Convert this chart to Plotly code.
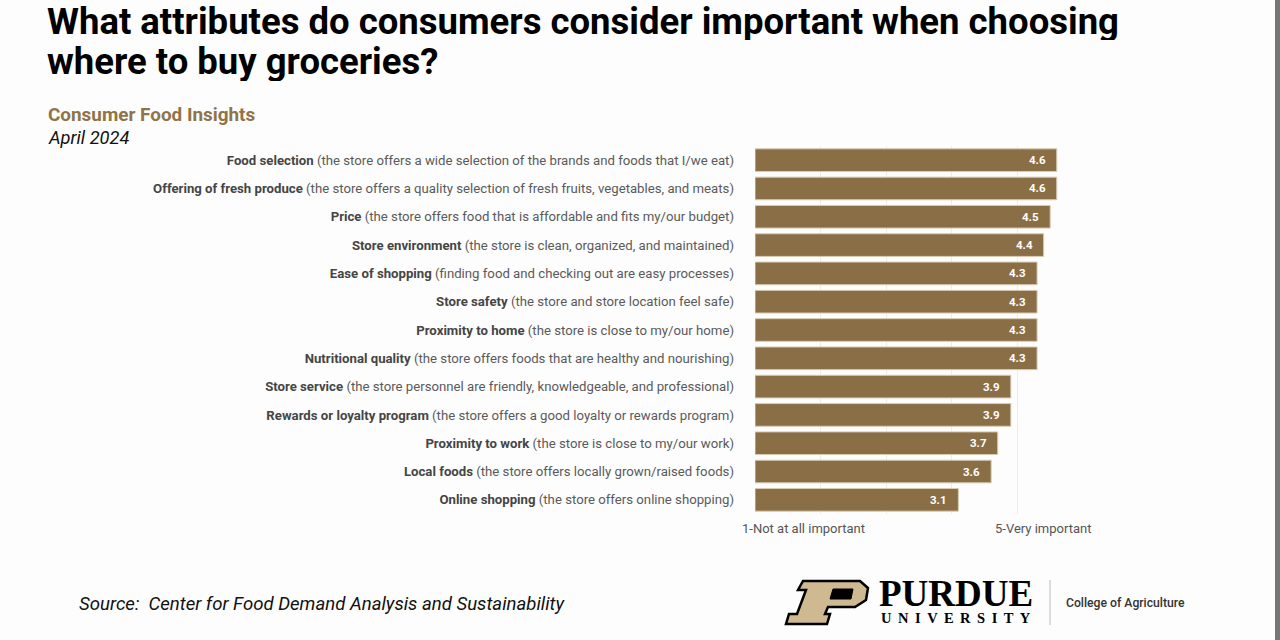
import plotly.graph_objects as go

attributes = [
    "Food selection", "Offering of fresh produce", "Price", "Store environment",
    "Ease of shopping", "Store safety", "Proximity to home", "Nutritional quality",
    "Store service", "Rewards or loyalty program", "Proximity to work",
    "Local foods", "Online shopping",
]
descriptions = [
    "(the store offers a wide selection of the brands and foods that I/we eat)",
    "(the store offers a quality selection of fresh fruits, vegetables, and meats)",
    "(the store offers food that is affordable and fits my/our budget)",
    "(the store is clean, organized, and maintained)",
    "(finding food and checking out are easy processes)",
    "(the store and store location feel safe)",
    "(the store is close to my/our home)",
    "(the store offers foods that are healthy and nourishing)",
    "(the store personnel are friendly, knowledgeable, and professional)",
    "(the store offers a good loyalty or rewards program)",
    "(the store is close to my/our work)",
    "(the store offers locally grown/raised foods)",
    "(the store offers online shopping)",
]
scores = [4.6, 4.6, 4.5, 4.4, 4.3, 4.3, 4.3, 4.3, 3.9, 3.9, 3.7, 3.6, 3.1]
axis_end_labels = ["1-Not at all important", "5-Very important"]

BAR = "#8a6e45"
GOLD_TXT = "#8f7449"
FONT = "Roboto"

W, H = 1280, 640
ML, MR, MT, MB = 755, 197, 146, 126
PW, PH = W - ML - MR, H - MT - MB


def px(x):
    return (x - ML) / PW


def py(y):
    return (H - MB - y) / PH


labels = [f"<span style='color:#454545'><b>{a}</b></span> {d}" for a, d in zip(attributes, descriptions)]

fig = go.Figure()
fig.add_trace(go.Bar(
    x=scores, y=labels, orientation="h",
    marker=dict(color=BAR, line=dict(color="#d9ccb4", width=1)),
    hoverinfo="skip",
))

annotations = []
for lab, v in zip(labels, scores):
    annotations.append(dict(
        x=v, y=lab, xref="x", yref="y", text=f"<b>{v:.1f}</b>", showarrow=False,
        xanchor="right", yanchor="middle", xshift=-9,
        font=dict(family=FONT, size=11.5, color="white"),
    ))

sp = " \u2009"
annotations += [
    dict(x=0, y=py(528), xref="x", yref="paper", text=axis_end_labels[0], showarrow=False,
         xanchor="left", yanchor="middle", xshift=-15,
         font=dict(family=FONT, size=13, color="#555555")),
    dict(x=5, y=py(528), xref="x", yref="paper", text=axis_end_labels[1], showarrow=False,
         xanchor="right", yanchor="middle", xshift=10,
         font=dict(family=FONT, size=13, color="#555555")),
    dict(x=px(45), y=py(21), xref="paper", yref="paper", height=38, valign="middle",
         text="<b>What attributes do consumers consider important when choosing</b>",
         showarrow=False, xanchor="left", yanchor="middle",
         font=dict(family=FONT, size=36.5, color="#000000")),
    dict(x=px(45), y=py(61), xref="paper", yref="paper", height=40, valign="middle",
         text="<b>where to buy groceries?</b>",
         showarrow=False, xanchor="left", yanchor="middle",
         font=dict(family=FONT, size=36.5, color="#000000")),
    dict(x=px(46), y=py(115), xref="paper", yref="paper", text="<b>Consumer Food Insights</b>",
         showarrow=False, xanchor="left", yanchor="middle",
         font=dict(family=FONT, size=18.9, color=GOLD_TXT)),
    dict(x=px(46), y=py(138), xref="paper", yref="paper", text="<i>April 2024</i>",
         showarrow=False, xanchor="left", yanchor="middle",
         font=dict(family=FONT, size=18.3, color="#111111")),
    dict(x=px(77), y=py(604), xref="paper", yref="paper",
         text="<i>Source:  Center for Food Demand Analysis and Sustainability</i>",
         showarrow=False, xanchor="left", yanchor="middle",
         font=dict(family=FONT, size=18.6, color="#111111")),
    dict(x=px(877), y=py(593), xref="paper", yref="paper", text="<b>PURDUE</b>", height=28,
         showarrow=False, xanchor="left", yanchor="middle",
         font=dict(family="Liberation Serif", size=37, color="#000000")),
    dict(x=px(879), y=py(617.5), xref="paper", yref="paper", height=14,
         text="<b>" + sp.join("UNIVERSITY") + "</b>",
         showarrow=False, xanchor="left", yanchor="middle",
         font=dict(family="Liberation Serif", size=14.5, color="#000000")),
    dict(x=px(1064), y=py(603), xref="paper", yref="paper", text="College of Agriculture",
         showarrow=False, xanchor="left", yanchor="middle",
         font=dict(family=FONT, size=12.2, color="#333333", weight=500)),
]


def path(points):
    return "M " + " L ".join(f"{px(a):.5f},{py(b):.5f}" for a, b in points) + " Z"


P_outer = [(803, 581), (860, 581), (868, 588), (866, 600), (855, 607), (828, 607),
           (825, 614), (830, 614), (827, 624), (786, 624), (789, 614), (797, 614),
           (806, 590), (798, 590)]
P_counter = [(833, 589), (853, 589), (851, 599), (830, 599)]

shapes = [
    dict(type="path", xref="paper", yref="paper", path=path(P_outer),
         fillcolor="#cfb991", line=dict(color="#000000", width=2.5)),
    dict(type="path", xref="paper", yref="paper", path=path(P_counter),
         fillcolor="#000000", line=dict(color="#000000", width=1)),
    dict(type="line", xref="paper", yref="paper", x0=px(1050), x1=px(1050), y0=py(580), y1=py(625),
         line=dict(color="#bbbbbb", width=1)),
    dict(type="rect", xref="paper", yref="paper", x0=px(1275), x1=px(1280), y0=py(0), y1=py(640),
         fillcolor="#767676", line=dict(width=0)),
]

fig.update_layout(
    width=W, height=H,
    margin=dict(l=ML, r=MR, t=MT, b=MB),
    paper_bgcolor="#fdfdfd", plot_bgcolor="#fdfdfd",
    bargap=0.2, showlegend=False,
    annotations=annotations, shapes=shapes,
    xaxis=dict(range=[0, 5], tickvals=[0, 1, 2, 3, 4, 5], showticklabels=False,
               showgrid=True, gridcolor="#ececec", gridwidth=1, zeroline=False,
               showline=False, fixedrange=True),
    yaxis=dict(autorange="reversed", showgrid=False, zeroline=False, showline=False,
               ticks="", ticklabelstandoff=20, fixedrange=True,
               tickfont=dict(family=FONT, size=13.2, color="#5a5a5a")),
)

fig.write_html("out.html", config={"displayModeBar": False},
               post_script="document.body.style.margin='0px';document.body.style.overflow='hidden';")
